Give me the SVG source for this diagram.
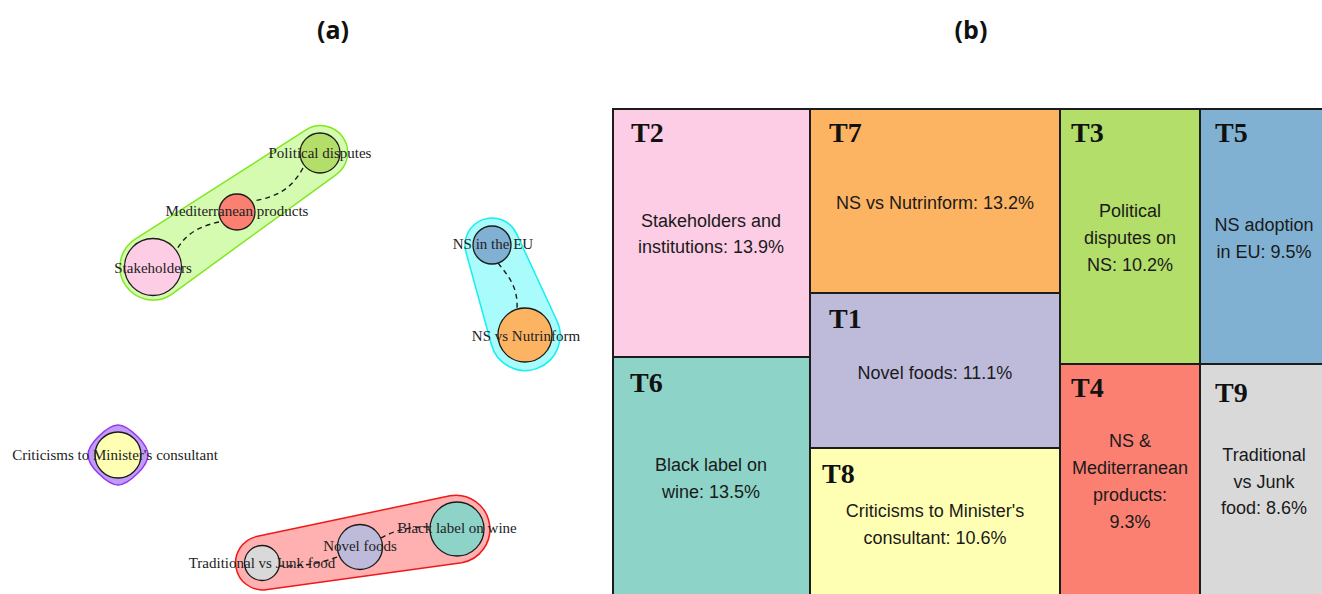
<svg xmlns="http://www.w3.org/2000/svg" width="1322" height="594" viewBox="0 0 1322 594">
  <style>
    .panel { font-family: "Open Sans", "Liberation Sans", sans-serif; font-weight: bold; font-size: 25px; fill: #111; text-anchor: middle; }
    .node circle { stroke: #1a1a1a; stroke-width: 1.3; }
    .nlabel { font-family: "Liberation Serif", "Times New Roman", serif; font-size: 15px; fill: #222; text-anchor: middle; }
    .edge { fill: none; stroke: #1a1a1a; stroke-width: 1.4; stroke-dasharray: 5 4; }
    .hull { stroke-width: 1.5; }
    .cell rect { stroke: #1c1c1c; stroke-width: 2; }
    .tag { font-family: "Liberation Serif", "Times New Roman", serif; font-weight: bold; font-size: 28px; fill: #111; }
    .desc { font-family: "Liberation Sans", Arial, sans-serif; font-size: 18px; fill: #1a1a1a; text-anchor: middle; }
  </style>

  <rect width="1322" height="594" fill="#ffffff"/>

  <!-- panel titles -->
  <text class="panel" x="333" y="39">(a)</text>
  <text class="panel" x="971" y="39">(b)</text>

  <!-- (a) topic network: cluster hulls -->
  <g id="hulls">
    <path class="hull" fill="#D5FBB0" stroke="#7FE81E" d="M304.8,130.7 A27,27 0 1 1 335.2,175.3 L171.6,294.3 A33,33 0 0 1 134.4,239.7 Z"/>
    <path class="hull" fill="#AAFBFB" stroke="#12F0F0" d="M466.0,252.2 A27,27 0 0 1 516.5,233.6 L556.7,320.3 A35,35 0 1 1 491.3,344.3 Z"/>
    <path class="hull" fill="#C09BFA" stroke="#9A35F5" d="M118,425 Q126,425 138,437 Q148,447 148,455 Q148,463 138,473 Q126,485 118,485 Q110,485 98,473 Q88,463 88,455 Q88,447 98,437 Q110,425 118,425 Z"/>
    <path class="hull" fill="#FFB0B0" stroke="#F01818" d="M450.0,495.7 A34,34 0 1 1 461.7,562.7 L265.7,589.7 A27,27 0 0 1 256.4,536.6 Z"/>
  </g>

  <!-- (a) connectors -->
  <g id="connectors">
    <path class="edge" d="M303,168 C292,188 278,197 253,201"/>
    <path class="edge" d="M219,222 C196,227 184,236 176,251"/>
    <path class="edge" d="M498,263 C510,278 518,288 517,309"/>
    <path class="edge" d="M279,566 Q312,567 340,556"/>
    <path class="edge" d="M381,538 Q402,526 430,527"/>
  </g>

  <!-- (a) nodes -->
  <g id="node-political-disputes" class="node">
    <circle cx="320" cy="153" r="20" fill="#B3DE69"/>
    <text class="nlabel" x="320" y="158">Political disputes</text>
  </g>
  <g id="node-mediterranean-products" class="node">
    <circle cx="237" cy="212" r="18" fill="#FB8072"/>
    <text class="nlabel" x="237" y="216">Mediterranean products</text>
  </g>
  <g id="node-stakeholders" class="node">
    <circle cx="153" cy="267" r="28.5" fill="#FCCDE5"/>
    <text class="nlabel" x="153" y="273">Stakeholders</text>
  </g>
  <g id="node-ns-in-the-eu" class="node">
    <circle cx="492" cy="245" r="19" fill="#80B1D3"/>
    <text class="nlabel" x="493" y="249">NS in the EU</text>
  </g>
  <g id="node-ns-vs-nutrinform" class="node">
    <circle cx="525" cy="335" r="27" fill="#FDB462"/>
    <text class="nlabel" x="526" y="341">NS vs Nutrinform</text>
  </g>
  <g id="node-criticisms" class="node">
    <circle cx="118" cy="455" r="23" fill="#FFFFB3"/>
    <text class="nlabel" x="115" y="460">Criticisms to Minister's consultant</text>
  </g>
  <g id="node-traditional-vs-junk" class="node">
    <circle cx="262" cy="563" r="17.5" fill="#D9D9D9"/>
    <text class="nlabel" x="262" y="568">Traditional vs Junk food</text>
  </g>
  <g id="node-novel-foods" class="node">
    <circle cx="360" cy="547" r="22.5" fill="#BEBADA"/>
    <text class="nlabel" x="360" y="551">Novel foods</text>
  </g>
  <g id="node-black-label" class="node">
    <circle cx="457" cy="529" r="27" fill="#8DD3C7"/>
    <text class="nlabel" x="457" y="533">Black label on wine</text>
  </g>

  <!-- (b) treemap of topic shares -->
  <g id="cell-T2" class="cell">
    <rect x="613" y="109" width="197" height="248" fill="#FCCDE5"/>
    <text class="tag" x="631" y="142">T2</text>
    <text class="desc" x="711" y="227">Stakeholders and</text>
    <text class="desc" x="711" y="253">institutions: 13.9%</text>
  </g>
  <g id="cell-T6" class="cell">
    <rect x="613" y="357" width="197" height="250" fill="#8DD3C7"/>
    <text class="tag" x="630" y="392">T6</text>
    <text class="desc" x="711" y="471">Black label on</text>
    <text class="desc" x="711" y="498">wine: 13.5%</text>
  </g>
  <g id="cell-T7" class="cell">
    <rect x="810" y="109" width="250" height="184" fill="#FDB462"/>
    <text class="tag" x="829" y="142">T7</text>
    <text class="desc" x="935" y="209">NS vs Nutrinform: 13.2%</text>
  </g>
  <g id="cell-T1" class="cell">
    <rect x="810" y="293" width="250" height="155" fill="#BEBADA"/>
    <text class="tag" x="829" y="328">T1</text>
    <text class="desc" x="935" y="379">Novel foods: 11.1%</text>
  </g>
  <g id="cell-T8" class="cell">
    <rect x="810" y="448" width="250" height="159" fill="#FFFFB3"/>
    <text class="tag" x="822" y="483">T8</text>
    <text class="desc" x="935" y="517">Criticisms to Minister's</text>
    <text class="desc" x="935" y="544">consultant: 10.6%</text>
  </g>
  <g id="cell-T3" class="cell">
    <rect x="1060" y="109" width="140" height="255" fill="#B3DE69"/>
    <text class="tag" x="1071" y="142">T3</text>
    <text class="desc" x="1130" y="217">Political</text>
    <text class="desc" x="1130" y="244">disputes on</text>
    <text class="desc" x="1130" y="271">NS: 10.2%</text>
  </g>
  <g id="cell-T4" class="cell">
    <rect x="1060" y="364" width="140" height="243" fill="#FB8072"/>
    <text class="tag" x="1071" y="397">T4</text>
    <text class="desc" x="1130" y="447">NS &amp;</text>
    <text class="desc" x="1130" y="474">Mediterranean</text>
    <text class="desc" x="1130" y="501">products:</text>
    <text class="desc" x="1130" y="528">9.3%</text>
  </g>
  <g id="cell-T5" class="cell">
    <rect x="1200" y="109" width="130" height="255" fill="#80B1D3"/>
    <text class="tag" x="1215" y="142">T5</text>
    <text class="desc" x="1264" y="231">NS adoption</text>
    <text class="desc" x="1264" y="258">in EU: 9.5%</text>
  </g>
  <g id="cell-T9" class="cell">
    <rect x="1200" y="364" width="130" height="243" fill="#D9D9D9"/>
    <text class="tag" x="1215" y="402">T9</text>
    <text class="desc" x="1264" y="461">Traditional</text>
    <text class="desc" x="1264" y="488">vs Junk</text>
    <text class="desc" x="1264" y="514">food: 8.6%</text>
  </g>
</svg>
